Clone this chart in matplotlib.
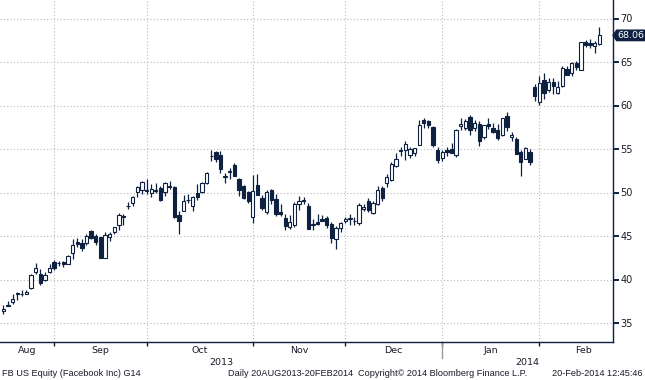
import numpy as np
import matplotlib.pyplot as plt
from matplotlib.patches import Polygon

# FB US Equity daily candles, 15 Aug 2013 - 20 Feb 2014
opens = [36.36, 36.97, 37.43, 38.35, 38.38, 38.37, 39.00, 40.90, 40.68, 39.96, 40.89, 42.02,
         41.84, 42.01, 41.79, 43.09, 44.36, 44.24, 44.20, 45.53, 45.04, 44.85, 42.50, 44.83,
         45.51, 46.32, 47.28, 48.50, 48.80, 50.01, 50.29, 50.14,
         49.97, 50.13, 50.47, 50.10, 50.73, 50.60, 47.38, 47.86, 49.18, 48.40, 49.99, 50.04,
         51.12, 54.18, 54.68, 54.33, 51.75, 52.38, 53.18, 51.54, 50.73, 50.00, 47.16,
         50.85, 49.37, 47.79, 50.26, 49.24, 47.81, 47.04, 46.00, 46.23, 48.70, 49.11, 48.47,
         46.26, 46.61, 46.99, 47.04, 46.36, 44.66, 45.92, 46.75,
         46.90, 46.75, 46.46, 48.15, 48.98, 47.70, 48.64, 50.55, 51.05, 51.40, 53.00, 54.76,
         54.86, 54.33, 54.50, 55.50, 58.32, 58.20, 57.48, 54.93, 53.95,
         54.83, 55.02, 54.30, 57.70, 57.40, 58.65, 57.40, 57.91, 56.40, 57.85, 57.40, 57.20,
         56.60, 58.85, 56.37, 56.15, 54.60, 53.90, 54.61, 62.12, 60.40,
         62.90, 61.80, 62.74, 61.40, 62.20, 64.20, 63.70, 64.92, 64.10, 67.30, 67.20, 66.80,
         67.10]
highs = [37.07, 37.49, 38.28, 38.58, 38.85, 38.75, 40.63, 41.94, 41.20, 40.85, 41.78, 42.26,
         42.16, 42.17, 42.76, 44.61, 44.79, 44.60, 45.20, 45.70, 45.20, 44.94, 45.44, 45.47,
         46.05, 47.60, 47.55, 48.90, 49.60, 50.80, 51.28, 51.60,
         51.03, 51.10, 50.72, 51.16, 51.29, 50.70, 47.84, 49.68, 49.87, 49.63, 51.00, 51.24,
         52.40, 54.83, 54.81, 54.76, 52.25, 52.84, 53.40, 51.70, 50.90, 50.21, 52.00,
         52.09, 49.75, 50.30, 50.45, 49.87, 48.65, 47.53, 47.37, 48.90, 49.57, 49.48, 48.84,
         47.00, 47.55, 47.46, 47.27, 46.65, 46.17, 46.60, 47.21,
         47.54, 47.20, 48.77, 48.70, 49.39, 48.97, 50.77, 50.77, 52.07, 53.50, 54.50, 55.18,
         55.89, 55.19, 55.15, 58.32, 58.55, 58.38, 57.68, 55.18, 54.86,
         55.22, 55.65, 57.26, 58.55, 58.41, 58.96, 58.30, 58.25, 57.78, 58.57, 58.02, 57.82,
         58.58, 59.31, 57.00, 56.42, 54.94, 55.28, 54.95, 62.50, 63.37,
         63.77, 63.14, 63.16, 62.78, 64.57, 64.49, 65.00, 65.06, 67.33, 67.58, 67.62, 67.40,
         69.06]
lows = [36.02, 36.90, 37.14, 37.69, 38.15, 38.28, 38.93, 40.62, 39.42, 39.88, 40.80, 41.06,
        41.51, 41.44, 41.77, 42.40, 43.70, 43.23, 44.00, 44.65, 43.93, 42.43, 42.43, 44.40,
        45.23, 45.74, 46.29, 48.16, 48.46, 49.50, 49.86, 49.80,
        49.45, 49.95, 49.06, 49.57, 50.40, 47.08, 45.26, 47.83, 48.79, 47.91, 49.18, 49.90,
        50.95, 53.60, 53.51, 52.20, 51.13, 51.59, 51.88, 49.61, 49.25, 48.75, 46.50,
        49.72, 48.02, 47.51, 48.71, 47.30, 47.25, 45.73, 45.83, 46.06, 48.03, 48.71, 45.80,
        45.72, 46.31, 46.69, 45.96, 44.20, 43.55, 45.50, 46.50,
        46.26, 46.29, 46.26, 47.87, 47.71, 47.50, 48.54, 49.01, 50.66, 51.34, 52.91, 54.24,
        53.75, 53.95, 54.23, 55.45, 57.37, 57.37, 55.25, 53.43, 53.60,
        54.19, 54.53, 54.05, 57.22, 57.23, 56.65, 57.06, 55.38, 56.10, 57.27, 56.83, 56.07,
        56.50, 57.10, 55.90, 54.40, 51.95, 53.80, 53.19, 60.46, 60.05,
        60.70, 61.60, 61.27, 61.30, 62.10, 63.47, 63.35, 64.05, 64.05, 66.72, 66.64, 66.00,
        66.90]
closes = [36.56, 37.08, 37.81, 38.41, 38.32, 38.55, 40.55, 41.34, 39.64, 40.55, 41.28, 41.29,
          41.87, 41.78, 42.66, 43.95, 44.04, 43.60, 45.04, 44.75, 44.31, 42.51, 45.07, 45.23,
          45.98, 47.40, 47.19, 48.45, 49.46, 50.60, 51.20, 50.23,
          50.42, 50.28, 49.18, 51.04, 50.60, 47.14, 46.77, 49.05, 49.11, 49.51, 49.50, 51.14,
          52.21, 54.22, 53.85, 52.68, 51.90, 52.45, 51.95, 50.23, 49.40, 49.01, 50.21,
          49.75, 48.22, 50.11, 49.12, 47.56, 47.53, 46.20, 46.61, 48.71, 48.99, 49.01, 45.83,
          46.36, 46.43, 46.70, 46.23, 44.82, 45.89, 46.49, 47.01,
          47.06, 46.73, 48.62, 48.34, 47.94, 48.84, 50.25, 49.38, 51.83, 53.32, 53.81, 54.86,
          55.57, 55.05, 55.12, 57.77, 57.96, 57.73, 55.44, 53.71, 54.65,
          54.71, 54.56, 57.20, 57.92, 58.23, 57.22, 57.94, 55.91, 57.74, 57.60, 57.00, 56.30,
          58.51, 57.51, 56.63, 54.45, 53.55, 55.14, 53.53, 61.08, 62.57,
          61.48, 62.75, 62.19, 62.16, 64.32, 63.55, 64.85, 64.45, 67.33, 67.00, 66.95, 67.15,
          68.06]

month_names = ["Aug", "Sep", "Oct", "Nov", "Dec", "Jan", "Feb"]
month_days = [12, 20, 23, 20, 21, 21, 13]   # trading days shown per month
years = ["2013", "2014"]
last_price = 68.06

NAVY = "#0e2141"
GRID = "#b9b9b9"
TXT = "#1a1a2a"
plt.rcParams["font.family"] = ["DejaVu Sans"]

fig = plt.figure(figsize=(6.45, 3.80), dpi=100)
ax = fig.add_axes([0, 38 / 380, 613 / 645, 342 / 380])

o = np.array(opens)
h = np.array(highs)
l = np.array(lows)
c = np.array(closes)
x = np.arange(len(c))
up = c >= o

ax.vlines(x, l, h, color=NAVY, lw=0.9, zorder=2)
body = np.maximum(np.abs(c - o), 0.04)
ax.bar(x[up], body[up], bottom=o[up], width=0.72, color="white",
       edgecolor=NAVY, lw=0.8, zorder=3)
ax.bar(x[~up], body[~up], bottom=c[~up], width=0.72, color=NAVY,
       edgecolor=NAVY, lw=0.8, zorder=3)

# month ends -> gridlines
ends = np.cumsum(month_days) - 1
for e in ends[:-1]:
    ax.axvline(e, color=GRID, lw=0.8, ls=(0, (1, 2)), zorder=1)

ax.set_xlim(-0.72, 131.95)
ax.set_ylim(45 - 106 / 8.7, 45 + 236 / 8.7)
ax.set_yticks(range(35, 71, 5))
ax.yaxis.tick_right()
ax.grid(axis="y", color=GRID, lw=0.8, ls=(0, (1, 2)), zorder=1)
ax.tick_params(axis="y", direction="out", length=4, width=1.4, color=NAVY,
               labelsize=7, labelcolor=TXT, pad=1.5)
ax.set_xticks(ends[:-1])
ax.set_xticklabels([])
ax.tick_params(axis="x", direction="out", length=3, width=1, color=NAVY)
for s in ["top", "left"]:
    ax.spines[s].set_visible(False)
for s in ["right", "bottom"]:
    ax.spines[s].set_color(NAVY)
    ax.spines[s].set_linewidth(1)

# month and year labels
starts = np.concatenate([[-0.72], ends[:-1]])
stops = np.concatenate([ends[:-1], [ends[-1] + 6]])
xt = ax.get_xaxis_transform()
for name, a, b in zip(month_names, starts, stops):
    ax.text((a + b) / 2, -0.024, name, transform=xt, ha="center", va="center",
            fontsize=6.8, color=TXT)
yr_split = ends[4]
ax.text((-0.72 + yr_split) / 2, -0.059, years[0], transform=xt, ha="center",
        va="center", fontsize=6.8, color=TXT)
ax.text((yr_split + 131.95) / 2, -0.059, years[1], transform=xt, ha="center",
        va="center", fontsize=6.8, color=TXT)
ax.plot([yr_split, yr_split], [0, -0.048], transform=xt, color="#9a9a9a",
        lw=1, clip_on=False)

# last price tag
yt = ax.get_yaxis_transform()
hh = 0.6
tag = Polygon([(1.0, last_price), (1.006, last_price + hh), (1.053, last_price + hh),
               (1.053, last_price - hh), (1.006, last_price - hh)],
              closed=True, transform=yt, clip_on=False, facecolor=NAVY,
              edgecolor=NAVY, zorder=5)
ax.add_patch(tag)
ax.text(1.029, last_price, f"{last_price:.2f}", transform=yt, ha="center",
        va="center", fontsize=6.8, color="white", zorder=6)

# footer
fy = 1 - 374 / 380
foot = dict(fontsize=6.6, color=TXT, va="center", family=["Liberation Sans", "DejaVu Sans"])
fig.text(2 / 645, fy, "FB US Equity (Facebook Inc) G14", **foot)
fig.text(228 / 645, fy, "Daily 20AUG2013-20FEB2014", **foot)
fig.text(358 / 645, fy, "Copyright\u00a9 2014 Bloomberg Finance L.P.", **foot)
fig.text(643 / 645, fy, "20-Feb-2014 12:45:46", ha="right", **foot)

fig.savefig("out.png", dpi=100)
